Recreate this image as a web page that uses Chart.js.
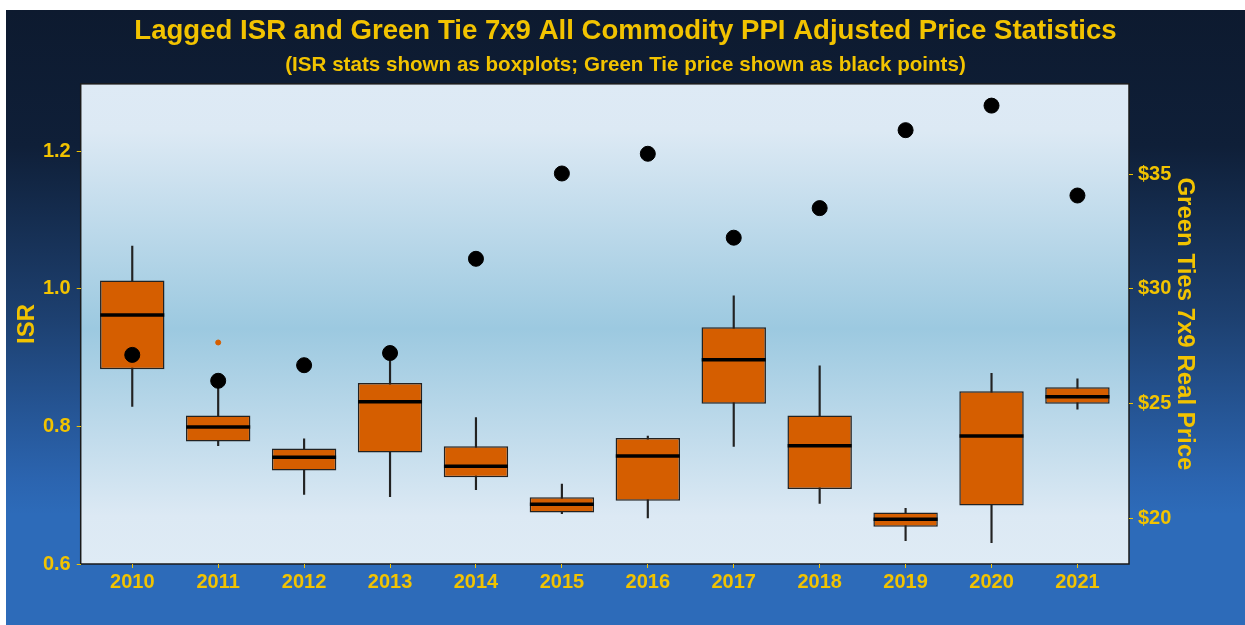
<!DOCTYPE html>
<html>
<head>
<meta charset="utf-8">
<script src="https://cdn.jsdelivr.net/npm/chart.js@4"></script>
<style>
  body { margin: 0; background: #fff; }
  #wrap { position: absolute; left: 6px; top: 10px; width: 1239px; height: 615px; }
</style>
</head>
<body>
<div id="wrap"><canvas id="myChart" width="1239" height="615"></canvas></div>
<script>
// Years on the x axis
const years = ['2010','2011','2012','2013','2014','2015','2016','2017','2018','2019','2020','2021'];

// ISR boxplot stats
const whiskerLow  = [0.829, 0.772, 0.701, 0.698, 0.708, 0.673, 0.667, 0.771, 0.688, 0.634, 0.631, 0.825];
const boxLow      = [0.883, 0.778, 0.736, 0.762, 0.726, 0.675, 0.692, 0.833, 0.709, 0.654, 0.685, 0.833];
const medians     = [0.962, 0.799, 0.755, 0.836, 0.742, 0.687, 0.757, 0.897, 0.772, 0.665, 0.786, 0.843];
const boxHigh     = [1.012, 0.816, 0.768, 0.863, 0.771, 0.697, 0.783, 0.944, 0.816, 0.675, 0.851, 0.857];
const whiskerHigh = [1.062, 0.862, 0.782, 0.895, 0.813, 0.716, 0.786, 0.990, 0.888, 0.681, 0.877, 0.869];

// outliers: [year index, ISR]
const outliers = [[1, 0.922]];

// Green Tie 7x9 real price (right axis)
const tiePrice = [27.12, 25.99, 26.67, 27.20, 31.31, 35.03, 35.89, 32.23, 33.52, 36.92, 37.99, 34.07];

// tick values
const isrTicks = [0.6, 0.8, 1.0, 1.2];
const priceTicks = [20, 25, 30, 35];

const gold = '#F2C300';
const boxColor = '#D55E00';
const font = 'Liberation Sans, Arial, sans-serif';

// background: outer gradient + plot panel gradient
const backgroundPlugin = {
  id: 'bg',
  beforeDraw(chart) {
    const { ctx, width, height, chartArea: a } = chart;
    ctx.save();
    let g = ctx.createLinearGradient(0, 0, 0, height);
    g.addColorStop(0, '#0D1A2F');
    g.addColorStop(0.22, '#0F1F38');
    g.addColorStop(0.5, '#1D4070');
    g.addColorStop(0.76, '#2B64AF');
    g.addColorStop(0.82, '#2D6BB9');
    g.addColorStop(1, '#2D6BB9');
    ctx.fillStyle = g;
    ctx.fillRect(0, 0, width, height);

    g = ctx.createLinearGradient(0, a.top, 0, a.bottom);
    g.addColorStop(0, '#DEEAF5');
    g.addColorStop(0.1, '#DCE9F4');
    g.addColorStop(0.51, '#9CC9E0');
    g.addColorStop(0.9, '#DCE9F4');
    g.addColorStop(1, '#DFEBF5');
    ctx.fillStyle = g;
    ctx.fillRect(a.left, a.top, a.right - a.left, a.bottom - a.top);
    ctx.strokeStyle = '#1a1a1a';
    ctx.lineWidth = 1.5;
    ctx.strokeRect(a.left, a.top, a.right - a.left, a.bottom - a.top);
    ctx.restore();
  }
};

const idx = years.map((y, i) => i);

const config = {
  data: {
    datasets: [
      {
        type: 'scatter',
        label: 'Green Tie price',
        data: idx.map(i => ({ x: i, y: tiePrice[i] })),
        yAxisID: 'y2',
        pointRadius: 7.5,
        backgroundColor: '#000',
        borderColor: '#000',
        order: 1
      },
      {
        type: 'scatter',
        label: 'Median',
        data: idx.map(i => ({ x: i, y: medians[i] })),
        yAxisID: 'y',
        pointStyle: 'line',
        pointRadius: 32,
        borderColor: '#000',
        borderWidth: 3.5,
        order: 2
      },
      {
        type: 'scatter',
        label: 'Outliers',
        data: outliers.map(o => ({ x: o[0], y: o[1] })),
        yAxisID: 'y',
        pointRadius: 2.5,
        backgroundColor: boxColor,
        borderColor: boxColor,
        order: 2
      },
      {
        type: 'bar',
        label: 'Box',
        data: idx.map(i => ({ x: i, y: [boxLow[i], boxHigh[i]] })),
        yAxisID: 'y',
        grouped: false,
        barPercentage: 0.75,
        categoryPercentage: 1,
        backgroundColor: boxColor,
        borderColor: '#222',
        borderWidth: 1.5,
        borderSkipped: false,
        order: 3
      },
      {
        type: 'bar',
        label: 'Whisker',
        data: idx.map(i => ({ x: i, y: [whiskerLow[i], whiskerHigh[i]] })),
        yAxisID: 'y',
        grouped: false,
        barThickness: 1.5,
        backgroundColor: '#222',
        borderWidth: 0,
        order: 4
      }
    ]
  },
  options: {
    responsive: false,
    animation: false,
    events: [],
    layout: { padding: { left: 0, right: 0, top: 0, bottom: 0 } },
    plugins: {
      legend: { display: false },
      tooltip: { enabled: false },
      title: {
        display: true,
        text: 'Lagged ISR and Green Tie 7x9 All Commodity PPI Adjusted Price Statistics',
        color: gold,
        font: { family: font, size: 27.6, weight: 'bold' },
        padding: { top: 5, bottom: 2 }
      },
      subtitle: {
        display: true,
        text: '(ISR stats shown as boxplots; Green Tie price shown as black points)',
        color: gold,
        font: { family: font, size: 20.6, weight: 'bold' },
        padding: { top: 3, bottom: 6 }
      }
    },
    scales: {
      x: {
        type: 'linear',
        offset: false,
        min: -0.6,
        max: 11.6,
        afterBuildTicks: axis => { axis.ticks = idx.map(i => ({ value: i })); },
        afterFit: scale => { scale.height = 61; },
        ticks: {
          color: gold,
          font: { family: font, size: 20, weight: 'bold' },
          padding: 2,
          maxRotation: 0,
          autoSkip: false,
          callback: v => years[v]
        },
        grid: { offset: false, drawOnChartArea: false, drawTicks: true, tickLength: 4, tickColor: gold },
        border: { display: false }
      },
      y: {
        type: 'linear',
        position: 'left',
        min: 0.6,
        max: 1.298,
        afterBuildTicks: axis => { axis.ticks = isrTicks.map(v => ({ value: v })); },
        afterFit: scale => { scale.width = 74.7; },
        ticks: {
          color: gold,
          font: { family: font, size: 20, weight: 'bold' },
          padding: 6,
          callback: v => v.toFixed(1)
        },
        title: {
          display: true,
          text: 'ISR',
          color: gold,
          font: { family: font, size: 24, weight: 'bold' },
          padding: { top: 6.6, bottom: 0 }
        },
        grid: { drawOnChartArea: false, drawTicks: true, tickLength: 4, tickColor: gold },
        border: { display: false }
      },
      y2: {
        type: 'linear',
        position: 'right',
        min: 18,
        max: 38.94,
        afterBuildTicks: axis => { axis.ticks = priceTicks.map(v => ({ value: v })); },
        afterFit: scale => { scale.width = 116; },
        ticks: {
          color: gold,
          font: { family: font, size: 20, weight: 'bold' },
          padding: 5,
          callback: v => '$' + v
        },
        title: {
          display: true,
          text: 'Green Ties 7x9 Real Price',
          color: gold,
          font: { family: font, size: 24, weight: 'bold' },
          padding: { top: 45.6, bottom: 0 }
        },
        grid: { drawOnChartArea: false, drawTicks: true, tickLength: 4, tickColor: gold },
        border: { display: false }
      }
    }
  },
  plugins: [backgroundPlugin]
};

const ctx = document.getElementById('myChart').getContext('2d');
const myChart = new Chart(ctx, config);
</script>
</body>
</html>
